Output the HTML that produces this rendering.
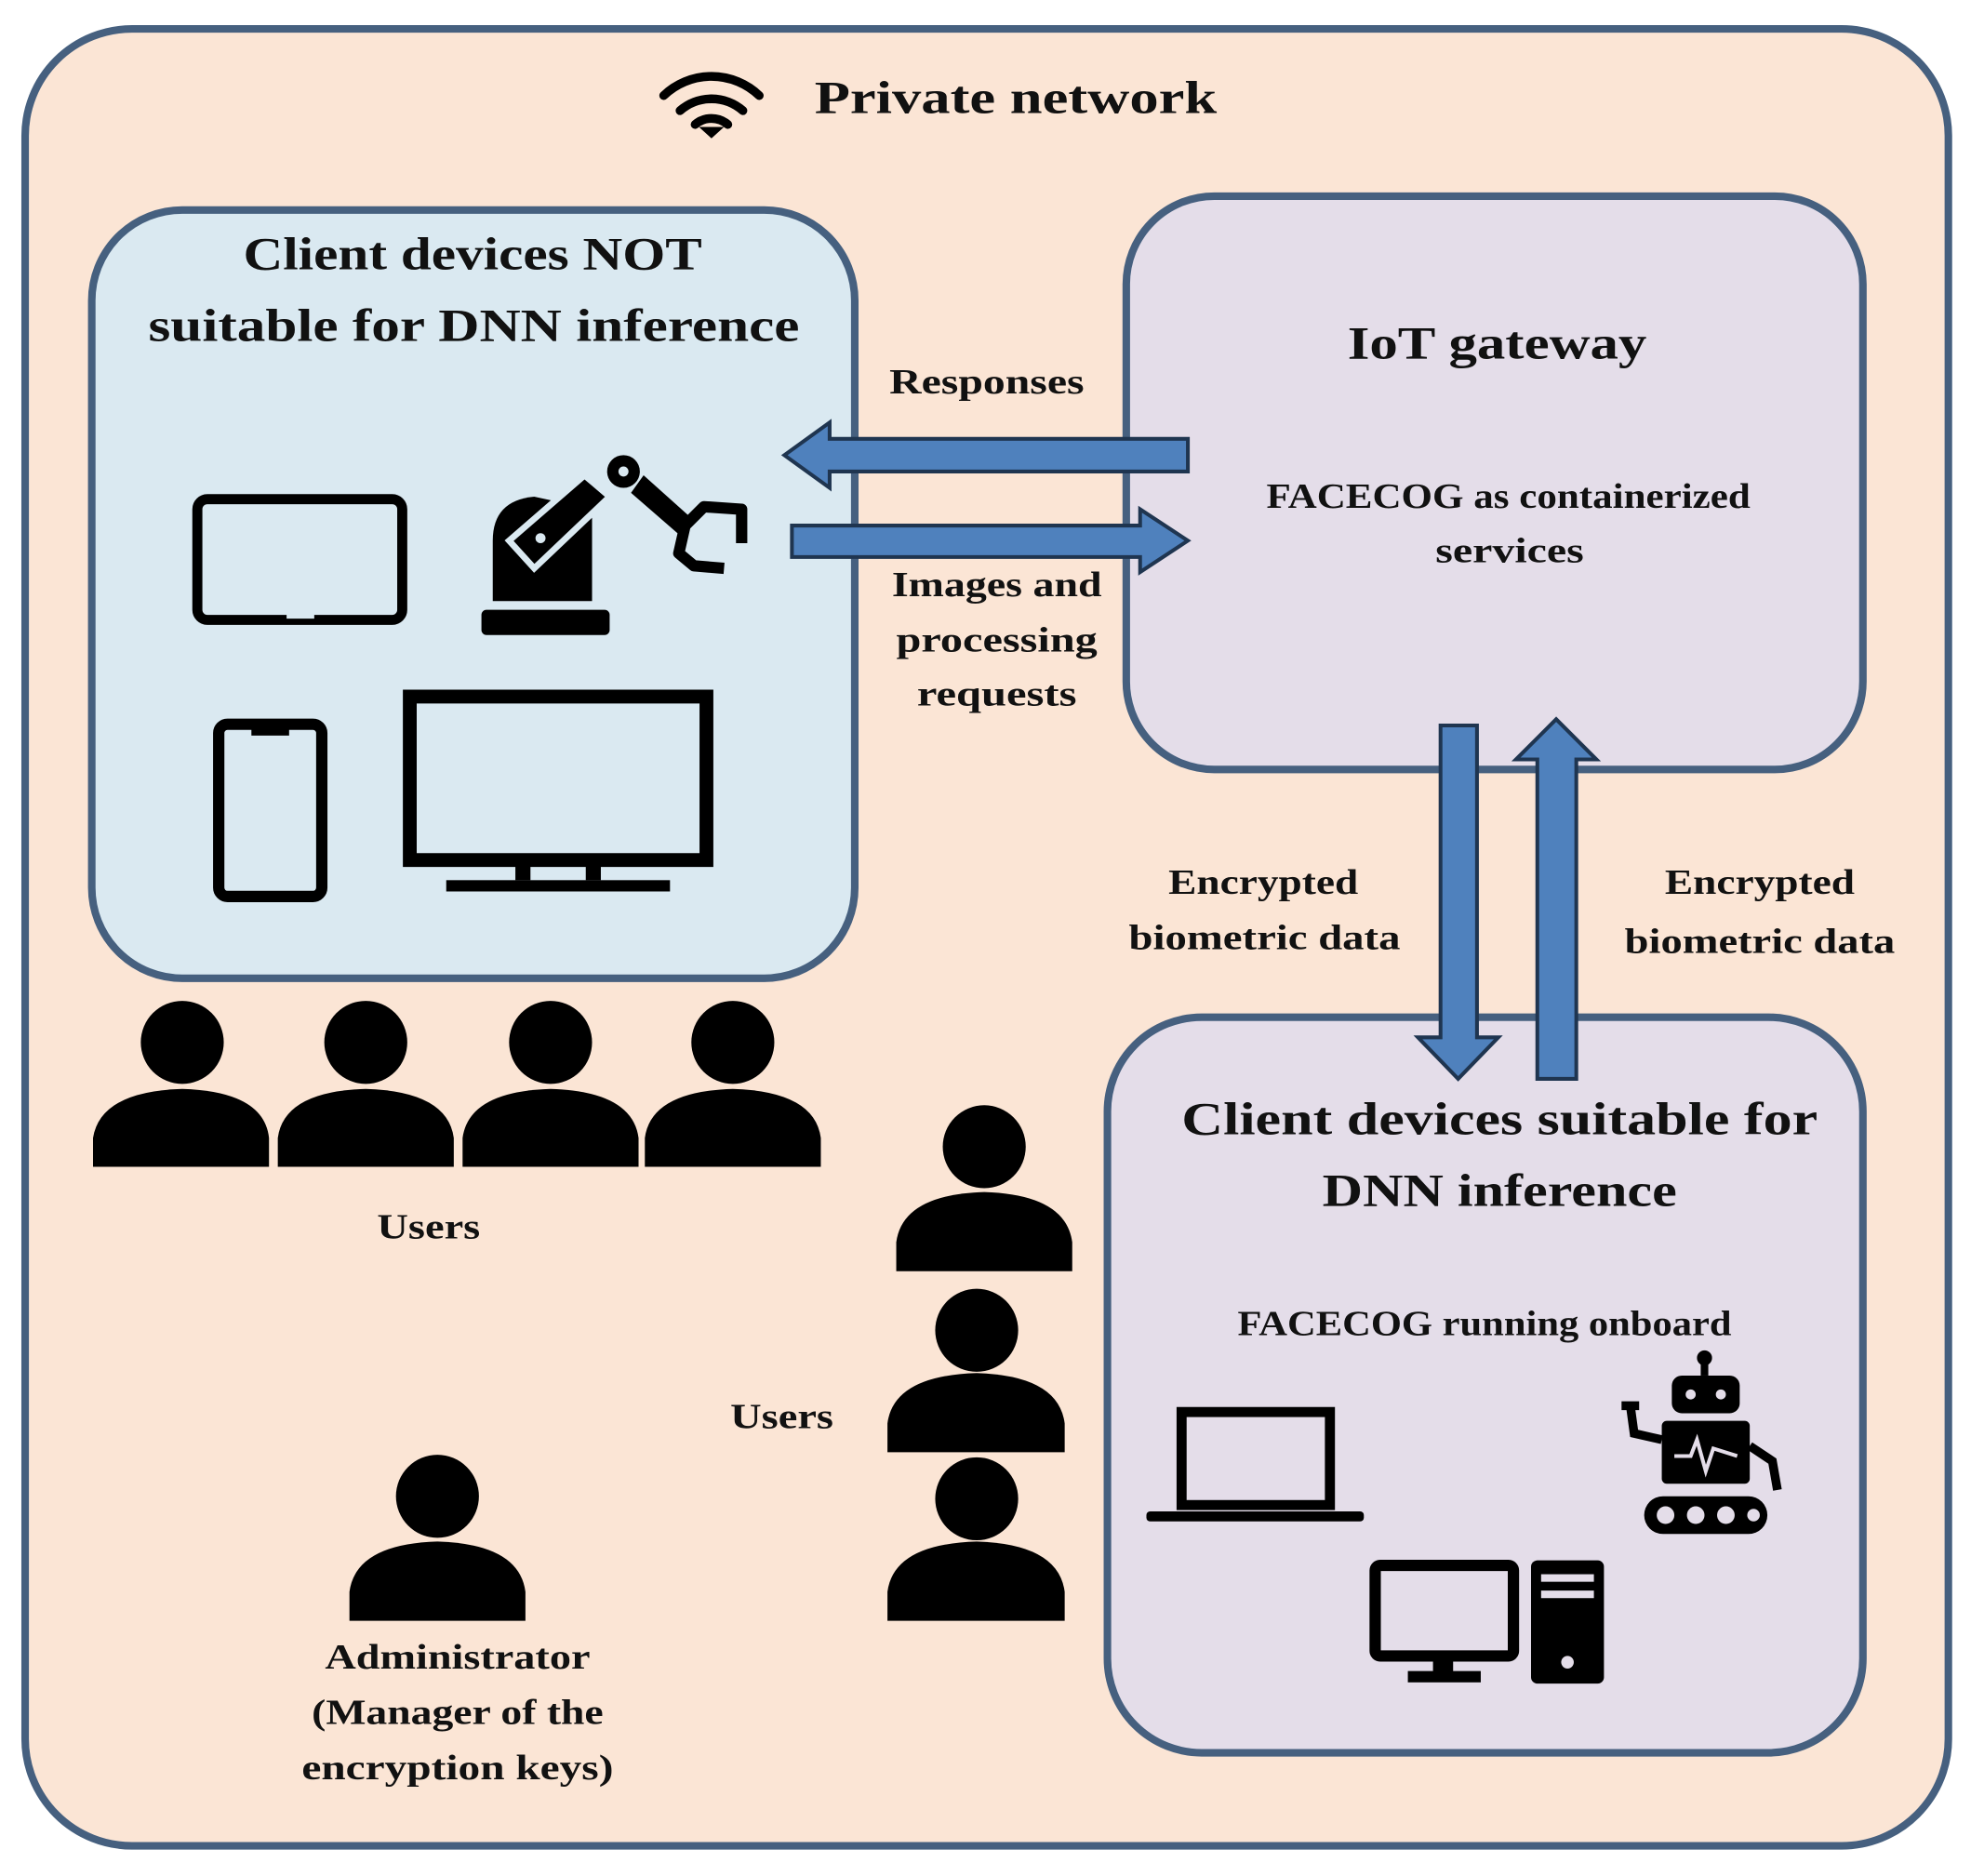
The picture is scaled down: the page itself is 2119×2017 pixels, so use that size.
<!DOCTYPE html>
<html><head><meta charset="utf-8"><style>
html,body{margin:0;padding:0;background:#fff}
svg{display:block}
text{font-family:"Liberation Serif",serif;font-weight:bold;fill:#111}
</style></head><body>
<svg width="2119" height="2017" viewBox="0 0 1568 1492" preserveAspectRatio="none" xmlns="http://www.w3.org/2000/svg">
<rect x="20" y="23" width="1530" height="1445" rx="85" fill="#fbe5d5" stroke="#46607f" stroke-width="6"/>
<!-- wifi -->
<g fill="none" stroke="#000" stroke-width="7" stroke-linecap="round">
<path d="M528 76 A55 55 0 0 1 604 76"/><path d="M541 88 A38 38 0 0 1 591 88"/><path d="M553 99 A20 20 0 0 1 579 99"/>
</g><path d="M556 101 L566 110 L576 101 Z" fill="#000"/>
<text x="648" y="90" font-size="37" textLength="320" lengthAdjust="spacingAndGlyphs">Private network</text>
<!-- left box -->
<rect x="73" y="167" width="607" height="611" rx="72" fill="#dae9f1" stroke="#46607f" stroke-width="6"/>
<text x="376" y="214" font-size="37" text-anchor="middle" textLength="365" lengthAdjust="spacingAndGlyphs">Client devices NOT</text>
<text x="377" y="271" font-size="37" text-anchor="middle" textLength="518" lengthAdjust="spacingAndGlyphs">suitable for DNN inference</text>
<!-- tablet -->
<rect x="157" y="397" width="163" height="96" rx="8" fill="none" stroke="#000" stroke-width="8"/>
<rect x="228" y="487" width="22" height="5" fill="#dae9f1"/>
<!-- robot arm -->
<g fill="#000">
<rect x="383" y="485" width="102" height="20" rx="4"/>
<path d="M392 478 L392 430 Q392 398 425 395 L471 405 L471 478 Z"/>
<path d="M405 430 L465 378 L485 395 L425 452 Z" stroke="#dae9f1" stroke-width="5"/>
<circle cx="496" cy="375" r="15" stroke="#dae9f1" stroke-width="4"/>
<path d="M512 378 L550 412 L540 425 L502 392 Z"/>
</g>
<circle cx="496" cy="375" r="4" fill="#dae9f1"/><circle cx="430" cy="428" r="4" fill="#dae9f1"/>
<path d="M545 418 L560 403 L590 405 L590 432 M545 418 L540 440 L552 450 L576 452" fill="none" stroke="#000" stroke-width="9" stroke-linejoin="round"/>
<!-- phone -->
<rect x="174" y="576" width="82" height="137" rx="7" fill="none" stroke="#000" stroke-width="9"/>
<rect x="200" y="580" width="30" height="5" fill="#000"/>
<!-- monitor -->
<rect x="326" y="554" width="236" height="130" fill="none" stroke="#000" stroke-width="11"/>
<rect x="410" y="684" width="12" height="16" fill="#000"/><rect x="466" y="684" width="12" height="16" fill="#000"/>
<rect x="355" y="700" width="178" height="9" fill="#000"/>
<!-- IoT box -->
<rect x="896" y="156" width="586" height="456" rx="70" fill="#e4dde9" stroke="#46607f" stroke-width="6"/>
<text x="1191" y="285" font-size="37" text-anchor="middle" textLength="238" lengthAdjust="spacingAndGlyphs">IoT gateway</text>
<text x="1200" y="404" font-size="28" text-anchor="middle" textLength="385" lengthAdjust="spacingAndGlyphs">FACECOG as containerized</text>
<text x="1201" y="447" font-size="28" text-anchor="middle" textLength="118" lengthAdjust="spacingAndGlyphs">services</text>
<!-- horizontal arrows -->
<path d="M945 349 L660 349 L660 336 L624 362 L660 388 L660 375 L945 375 Z" fill="#4f81bd" stroke="#1f3550" stroke-width="3"/>
<path d="M630 418 L907 418 L907 405 L945 430 L907 455 L907 443 L630 443 Z" fill="#4f81bd" stroke="#1f3550" stroke-width="3"/>
<text x="785" y="313" font-size="28" text-anchor="middle" textLength="155" lengthAdjust="spacingAndGlyphs">Responses</text>
<text x="793" y="474" font-size="28" text-anchor="middle" textLength="167" lengthAdjust="spacingAndGlyphs">Images and</text>
<text x="793" y="518" font-size="28" text-anchor="middle" textLength="160" lengthAdjust="spacingAndGlyphs">processing</text>
<text x="793" y="561" font-size="28" text-anchor="middle" textLength="127" lengthAdjust="spacingAndGlyphs">requests</text>
<!-- bottom-right box -->
<rect x="881" y="809" width="601" height="585" rx="75" fill="#e4dde9" stroke="#46607f" stroke-width="6"/>
<!-- vertical arrows -->
<path d="M1146 577 L1175 577 L1175 825 L1192 825 L1160 858 L1128 825 L1146 825 Z" fill="#4f81bd" stroke="#1f3550" stroke-width="3"/>
<path d="M1223 858 L1254 858 L1254 604 L1270 604 L1238 572 L1206 604 L1223 604 Z" fill="#4f81bd" stroke="#1f3550" stroke-width="3"/>
<text x="1005" y="711" font-size="28" text-anchor="middle" textLength="151" lengthAdjust="spacingAndGlyphs">Encrypted</text>
<text x="1006" y="755" font-size="28" text-anchor="middle" textLength="216" lengthAdjust="spacingAndGlyphs">biometric data</text>
<text x="1400" y="711" font-size="28" text-anchor="middle" textLength="151" lengthAdjust="spacingAndGlyphs">Encrypted</text>
<text x="1400" y="758" font-size="28" text-anchor="middle" textLength="215" lengthAdjust="spacingAndGlyphs">biometric data</text>
<text x="1193" y="902" font-size="37" text-anchor="middle" textLength="506" lengthAdjust="spacingAndGlyphs">Client devices suitable for</text>
<text x="1193" y="959" font-size="37" text-anchor="middle" textLength="282" lengthAdjust="spacingAndGlyphs">DNN inference</text>
<text x="1181" y="1062" font-size="28" text-anchor="middle" textLength="393" lengthAdjust="spacingAndGlyphs">FACECOG running onboard</text>
<!-- laptop -->
<rect x="940" y="1123" width="118" height="74" fill="none" stroke="#000" stroke-width="8"/>
<rect x="912" y="1202" width="173" height="8" rx="3" fill="#000"/>
<!-- robot -->
<g fill="#000">
<circle cx="1356" cy="1080" r="6"/><rect x="1353" y="1082" width="6" height="12"/>
<rect x="1330" y="1094" width="54" height="30" rx="8"/>
<rect x="1322" y="1130" width="70" height="50" rx="4"/>
<rect x="1308" y="1190" width="98" height="30" rx="15"/>
</g>
<circle cx="1345" cy="1109" r="4" fill="#e4dde9"/><circle cx="1369" cy="1109" r="4" fill="#e4dde9"/>
<circle cx="1325" cy="1205" r="7" fill="#e4dde9"/><circle cx="1349" cy="1205" r="7" fill="#e4dde9"/><circle cx="1373" cy="1205" r="7" fill="#e4dde9"/><circle cx="1395" cy="1205" r="5" fill="#e4dde9"/>
<path d="M1332 1158 L1345 1158 L1350 1145 L1357 1170 L1363 1152 L1382 1158" fill="none" stroke="#e4dde9" stroke-width="3"/>
<path d="M1322 1145 L1300 1140 L1297 1118 M1290 1118 L1304 1118 M1392 1150 L1410 1162 L1414 1185" fill="none" stroke="#000" stroke-width="7"/>
<!-- desktop -->
<rect x="1094" y="1245" width="110" height="72" rx="4" fill="none" stroke="#000" stroke-width="9"/>
<rect x="1140" y="1317" width="16" height="14" fill="#000"/><rect x="1120" y="1329" width="58" height="9" fill="#000"/>
<rect x="1218" y="1241" width="58" height="98" rx="5" fill="#000"/>
<rect x="1226" y="1252" width="42" height="6" fill="#e4dde9"/><rect x="1226" y="1265" width="42" height="6" fill="#e4dde9"/>
<circle cx="1247" cy="1322" r="5" fill="#e4dde9"/>
<!-- users -->
<g fill="#000">
<circle cx="145" cy="829" r="33"/><path d="M74 928 L74 905 Q80 868 145 866 Q210 868 214 905 L214 928 Z"/>
<circle cx="291" cy="829" r="33"/><path d="M221 928 L221 905 Q226 868 291 866 Q356 868 361 905 L361 928 Z"/>
<circle cx="438" cy="829" r="33"/><path d="M368 928 L368 905 Q373 868 438 866 Q503 868 508 905 L508 928 Z"/>
<circle cx="583" cy="829" r="33"/><path d="M513 928 L513 905 Q518 868 583 866 Q648 868 653 905 L653 928 Z"/>
<circle cx="783" cy="912" r="33"/><path d="M713 1011 L713 988 Q718 950 783 948 Q848 950 853 988 L853 1011 Z"/>
<circle cx="777" cy="1058" r="33"/><path d="M706 1155 L706 1132 Q711 1094 777 1092 Q842 1094 847 1132 L847 1155 Z"/>
<circle cx="777" cy="1192" r="33"/><path d="M706 1289 L706 1266 Q711 1228 777 1226 Q842 1228 847 1266 L847 1289 Z"/>
<circle cx="348" cy="1190" r="33"/><path d="M278 1289 L278 1266 Q283 1228 348 1226 Q413 1228 418 1266 L418 1289 Z"/>
</g>
<text x="341" y="985" font-size="28" text-anchor="middle" textLength="82" lengthAdjust="spacingAndGlyphs">Users</text>
<text x="622" y="1136" font-size="28" text-anchor="middle" textLength="82" lengthAdjust="spacingAndGlyphs">Users</text>
<text x="364" y="1327" font-size="28" text-anchor="middle" textLength="211" lengthAdjust="spacingAndGlyphs">Administrator</text>
<text x="364" y="1371" font-size="28" text-anchor="middle" textLength="232" lengthAdjust="spacingAndGlyphs">(Manager of the</text>
<text x="364" y="1415" font-size="28" text-anchor="middle" textLength="248" lengthAdjust="spacingAndGlyphs">encryption keys)</text>
</svg>
</body></html>
